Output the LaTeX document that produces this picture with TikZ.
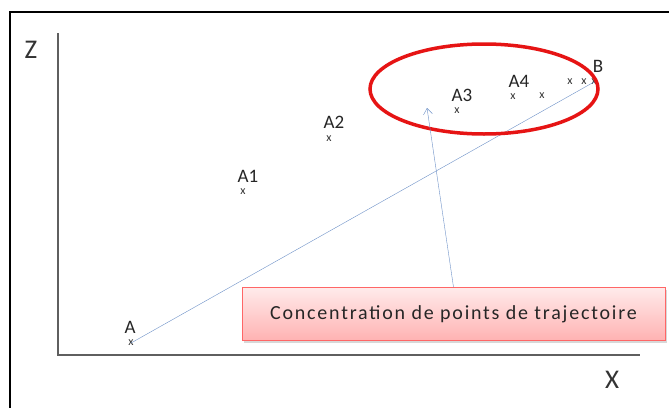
\documentclass[tikz,border=0pt]{standalone}
\usepackage{fontspec}
\setmainfont{Carlito}
\usetikzlibrary{arrows.meta,shadows}
\definecolor{trajblue}{RGB}{110,145,200}
\definecolor{axisgray}{RGB}{95,95,95}
\definecolor{ringred}{RGB}{230,20,20}
\begin{document}
\begin{tikzpicture}[x=1pt, y=-1pt, every node/.style={inner sep=0pt, text=black!80},
  ptmark/.style={font=\fontsize{12}{12}\selectfont},
  ptlbl/.style={font=\fontsize{19}{19}\selectfont, text=black!85},
  axlbl/.style={font=\fontsize{27}{27}\selectfont}]
\useasboundingbox (0,0) rectangle (669,407);
\fill[white] (0,0) rectangle (669,407);
\draw[line width=1.3pt] (10,12) rectangle (690,430);

% axes
\coordinate (O) at (58,355);
\coordinate (ztop) at (58,33);
\coordinate (xend) at (640,355);
\draw[axisgray, line width=2pt] (ztop) -- (O) -- (xend);
\node[axlbl] (z) at (31,50) {Z};
\node[axlbl] (xl) at (612,380) {X};

% points
\node[ptmark] (a0) at (131,343) {x};
\node[ptlbl] (la0) at (130,327) {A};
\node[ptmark] (a1) at (243,192) {x};
\node[ptlbl] (la1) at (248,176) {A1};
\node[ptmark] (a2) at (329,139) {x};
\node[ptlbl] (la2) at (334,122) {A2};
\node[ptmark] (a3) at (457,111) {x};
\node[ptlbl] (la3) at (462,95) {A3};
\node[ptmark] (a4) at (513,97) {x};
\node[ptlbl] (la4) at (519,81) {A4};
\node[ptmark] (p5) at (542,96) {x};
\node[ptmark] (p6) at (570,82) {x};
\node[ptmark] (p7) at (584,82) {x};
\node[ptmark] (b) at (594,82) {x};
\node[ptlbl] (lb) at (598,66) {B};

\draw[trajblue] (a0.center) -- (b.center);

% cluster
\draw[ringred, line width=3.5pt] (484,89) ellipse (114 and 45);

% note
\node[draw=red!60, line width=0.8pt, top color=red!8, bottom color=red!30,
  drop shadow={opacity=0.3}, minimum width=423pt, minimum height=53pt,
  text=black!85, font=\fontsize{20}{20}\selectfont\addfontfeature{LetterSpace=9}]
  (note) at (453.5,314) {Concentration de points de trajectoire};
\coordinate (tip) at (427,108);
\draw[trajblue, -{Straight Barb[length=6pt,width=9pt]}] (note.north) -- (tip);
\end{tikzpicture}
\end{document}
